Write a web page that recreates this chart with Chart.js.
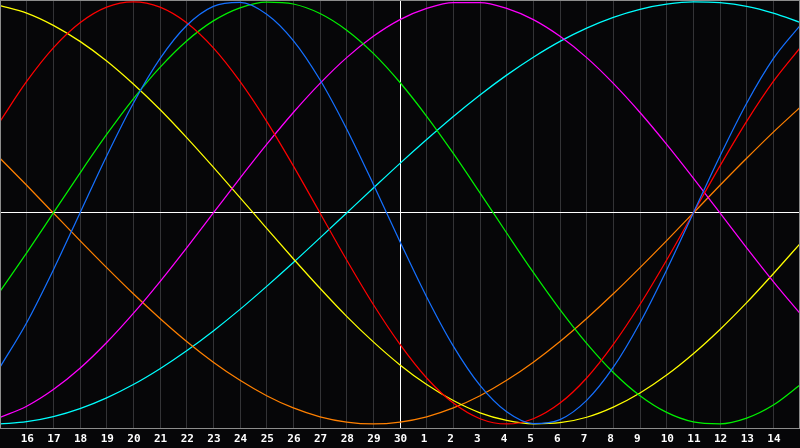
<!DOCTYPE html>
<html>
<head>
<meta charset="utf-8">
<script src="https://cdn.jsdelivr.net/npm/chart.js@4/dist/chart.umd.min.js"></script>
<style>
html,body{margin:0;padding:0;background:#060608;overflow:hidden}
canvas{display:block}
</style>
</head>
<body>
<canvas id="c" width="800" height="448"></canvas>
<script>
// Day labels along the bottom (first and last are unlabeled in the picture)
const dayLabels = ['15','16','17','18','19','20','21','22','23','24','25','26','27','28','29','30',
                   '1','2','3','4','5','6','7','8','9','10','11','12','13','14','15'];

// Biorhythm cycles, values in percent (-100..100), one per day
const physical23 = [-73.1,-52.0,-27.0,0,27.0,52.0,73.1,88.8,97.9,99.8,94.2,81.7,63.1,39.8,13.6,-13.6,-39.8,-63.1,-81.7,-94.2,-99.8,-97.9,-88.8,-73.1,-52.0,-27.0,0,27.0,52.0,73.1,88.8];
const emotional28 = [43.4,62.3,78.2,90.1,97.5,100,97.5,90.1,78.2,62.3,43.4,22.3,0,-22.3,-43.4,-62.3,-78.2,-90.1,-97.5,-100,-97.5,-90.1,-78.2,-62.3,-43.4,-22.3,0,22.3,43.4,62.3,78.2];
const intellectual33 = [-37.2,-18.9,0,18.9,37.2,54.1,69.0,81.5,91.0,97.2,99.9,99.0,94.5,86.6,75.6,61.8,45.8,28.2,9.5,-9.5,-28.2,-45.8,-61.8,-75.6,-86.6,-94.5,-99.0,-99.9,-97.2,-91.0,-81.5];
const intuitive38 = [-96.9,-91.6,-83.7,-73.6,-61.4,-47.6,-32.5,-16.5,0,16.5,32.5,47.6,61.4,73.6,83.7,91.6,96.9,99.7,99.7,96.9,91.6,83.7,73.6,61.4,47.6,32.5,16.5,0,-16.5,-32.5,-47.6];
const aesthetic43 = [98.3,94.7,88.9,81.3,72.0,61.1,49.0,35.7,21.7,7.3,-7.3,-21.7,-35.7,-49.0,-61.1,-72.0,-81.3,-88.9,-94.7,-98.3,-99.9,-99.4,-96.8,-92.0,-85.3,-76.8,-66.7,-55.2,-42.5,-28.8,-14.6];
const awareness48 = [25.9,13.1,0,-13.1,-25.9,-38.3,-50.0,-60.9,-70.7,-79.3,-86.6,-92.4,-96.6,-99.1,-100,-99.1,-96.6,-92.4,-86.6,-79.3,-70.7,-60.9,-50.0,-38.3,-25.9,-13.1,0,13.1,25.9,38.3,50.0];
const spiritual53 = [-100,-98.9,-96.5,-92.7,-87.6,-81.3,-73.8,-65.3,-55.9,-45.7,-34.8,-23.5,-11.8,0,11.8,23.5,34.8,45.7,55.9,65.3,73.8,81.3,87.6,92.7,96.5,98.9,100,99.6,97.9,94.7,90.3];

const seriesNames = ['Physical','Emotional','Intellectual','Intuitive','Aesthetic','Awareness','Spiritual'];
const seriesData = [physical23, emotional28, intellectual33, intuitive38, aesthetic43, awareness48, spiritual53];
const seriesColors = ['#1570ff','#ff0000','#00f000','#ff00ff','#ffff00','#ff8000','#00ffff'];

const bgPlugin = {
  id: 'bg',
  beforeDraw(chart) {
    const c = chart.ctx;
    c.save();
    c.fillStyle = '#060608';
    c.fillRect(0, 0, chart.width, chart.height);
    c.restore();
  }
};
const framePlugin = {
  id: 'frame',
  afterDraw(chart) {
    const a = chart.chartArea, c = chart.ctx;
    c.save();
    c.strokeStyle = '#8c8c8c';
    c.lineWidth = 1;
    c.strokeRect(a.left + 0.5, a.top + 0.5, a.right - a.left - 1, a.bottom - a.top);
    c.restore();
  }
};

new Chart(document.getElementById('c'), {
  type: 'line',
  data: {
    labels: dayLabels,
    datasets: seriesData.map((d, k) => ({
      label: seriesNames[k],
      data: d,
      borderColor: seriesColors[k],
      borderWidth: 1.25,
      pointRadius: 0,
      cubicInterpolationMode: 'monotone',
      fill: false
    }))
  },
  options: {
    responsive: false,
    devicePixelRatio: 1,
    animation: false,
    layout: { padding: 0 },
    plugins: { legend: { display: false }, tooltip: { enabled: false } },
    scales: {
      x: {
        type: 'category',
        offset: false,
        afterFit(s) { s.height = 20; s.paddingLeft = 0; s.paddingRight = 0; },
        grid: {
          drawTicks: false,
          lineWidth: 1,
          color: (ctx) => ctx.index === 15 ? '#ffffff' : (ctx.index === 0 || ctx.index === 30 ? 'rgba(0,0,0,0)' : '#333336')
        },
        border: { display: true, color: '#8c8c8c' },
        ticks: {
          autoSkip: false,
          maxRotation: 0,
          minRotation: 0,
          align: 'start',
          labelOffset: -6,
          padding: 5,
          color: '#ffffff',
          font: { family: 'DejaVu Sans Mono', weight: 'bold', size: 11 },
          callback: (v, i) => (i === 0 || i === dayLabels.length - 1) ? '' : dayLabels[i]
        }
      },
      y: {
        min: -101.9,
        max: 100.9,
        afterFit(s) { s.width = 0; s.paddingTop = 0; s.paddingBottom = 0; },
        afterBuildTicks(s) { s.ticks = [{ value: 0 }]; },
        grid: { drawTicks: false, color: '#ffffff', lineWidth: 1 },
        border: { display: false },
        ticks: { display: false }
      }
    }
  },
  plugins: [bgPlugin, framePlugin]
});
</script>
</body>
</html>
